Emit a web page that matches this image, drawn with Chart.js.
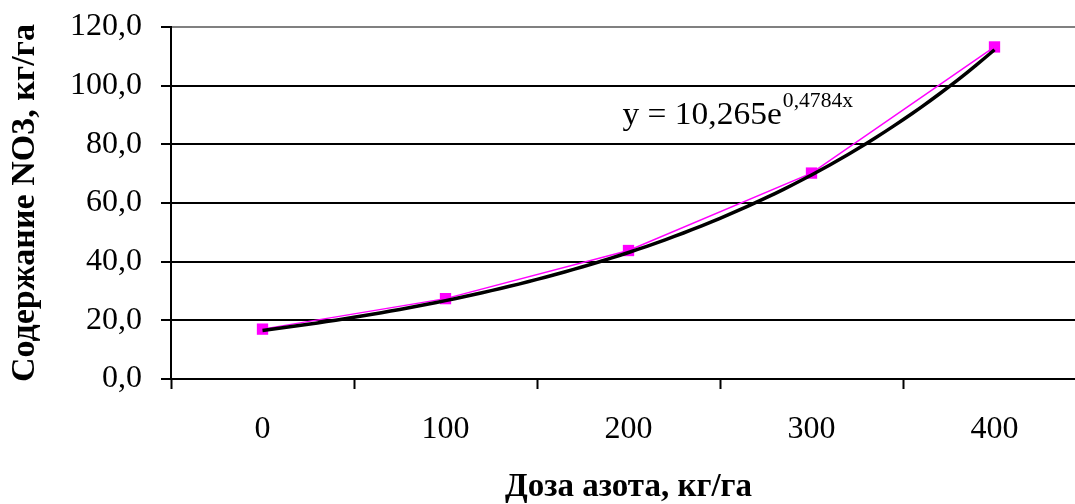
<!DOCTYPE html>
<html lang="ru">
<head>
<meta charset="utf-8">
<title>Содержание NO3</title>
<script src="https://cdn.jsdelivr.net/npm/chart.js@4"></script>
<style>
  html, body { margin: 0; padding: 0; background: #fff; overflow: hidden; }
  .chart-wrapper { position: relative; width: 1100px; height: 504px; }
</style>
</head>
<body>
<div class="chart-wrapper"><canvas id="no3Chart"></canvas></div>
<script>
// ===== Data =====
const doseLabels = ["0", "100", "200", "300", "400"];      // доза азота, кг/га
const no3Values = [17.0, 27.4, 43.8, 70.2, 113.2];          // содержание NO3, кг/га
const yTicks = [0, 20, 40, 60, 80, 100, 120];

// exponential trend y = a * e^(b*x), x = 1..5 (category number)
const TREND_A = 10.265;
const TREND_B = 0.4784;
const trendX = [];
for (let x = 1; x <= 5.0001; x += 0.05) trendX.push(+x.toFixed(2));
const trendPoints = trendX.map(x => ({ x: x, y: TREND_A * Math.exp(TREND_B * x) }));

const SERIF = "'Liberation Serif', 'Times New Roman', serif";
const fmt = v => v.toFixed(1).replace(".", ",");

// ===== Trend equation label =====
const equationLabel = {
  id: "equationLabel",
  afterDatasetsDraw(chart) {
    const ctx = chart.ctx;
    const xs = chart.scales.x;
    const ys = chart.scales.y;
    const left = xs.getPixelForValue(2) - 6;
    const base = ys.getPixelForValue(87);
    const main = "y = " + TREND_A.toFixed(3).replace(".", ",") + "e";
    const sup = TREND_B.toFixed(4).replace(".", ",") + "x";
    ctx.save();
    ctx.translate(left, base);
    ctx.scale(1.08, 1);
    ctx.fillStyle = "#000";
    ctx.textBaseline = "alphabetic";
    ctx.textAlign = "left";
    ctx.font = "31px " + SERIF;
    ctx.fillText(main, 0, 0);
    const w = ctx.measureText(main).width;
    ctx.font = "20px " + SERIF;
    ctx.fillText(sup, w + 1, -17);
    ctx.restore();
  }
};

// ===== Chart =====
function createChart() {
  const ctx = document.getElementById("no3Chart").getContext("2d");

  new Chart(ctx, {
    type: "line",
    data: {
      labels: doseLabels,
      datasets: [
        {
          label: "Тренд",
          data: trendPoints,
          xAxisID: "xt",
          borderColor: "#000",
          borderWidth: 3.5,
          pointRadius: 0,
          tension: 0,
          order: 0
        },
        {
          label: "Содержание NO3",
          data: no3Values,
          borderColor: "#ff00ff",
          backgroundColor: "#ff00ff",
          borderWidth: 1.5,
          pointStyle: "rect",
          pointRadius: 8,
          pointBorderWidth: 0,
          tension: 0,
          order: 1
        }
      ]
    },
    options: {
      responsive: true,
      maintainAspectRatio: false,
      animation: false,
      layout: { padding: { left: 0, top: 27, right: 14, bottom: 0 } },
      plugins: {
        legend: { display: false },
        tooltip: { enabled: false }
      },
      scales: {
        x: {
          type: "category",
          offset: true,
          afterFit: s => { s.height = 125; s.paddingLeft = 0; s.paddingRight = 0; },
          grid: {
            offset: true,
            drawOnChartArea: false,
            drawTicks: true,
            tickLength: 10,
            tickColor: "#000",
            tickWidth: 2
          },
          border: { display: true, color: "#000", width: 2 },
          ticks: {
            color: "#000",
            padding: 21,
            maxRotation: 0,
            font: { family: SERIF, size: 32 }
          },
          title: {
            display: true,
            text: "Доза азота, кг/га",
            color: "#000",
            font: { family: SERIF, size: 33, weight: "bold", lineHeight: 1 },
            padding: { top: 0, bottom: 0 }
          }
        },
        xt: {
          type: "linear",
          display: false,
          min: 0.5,
          max: 5.5
        },
        y: {
          min: 0,
          max: 120,
          afterFit: s => { s.width = 171; s.paddingTop = 0; s.paddingBottom = 0; },
          afterBuildTicks: s => { s.ticks = yTicks.map(v => ({ value: v })); },
          grid: {
            color: c => (c.tick && c.tick.value === 120 ? "#808080" : "#000"),
            lineWidth: 2,
            drawTicks: true,
            tickLength: 10,
            tickColor: "#000"
          },
          border: { display: true, color: "#000", width: 2 },
          ticks: {
            color: "#000",
            padding: 19,
            font: { family: SERIF, size: 32 },
            callback: v => fmt(v)
          },
          title: {
            display: true,
            text: "Содержание NO3, кг/га",
            color: "#000",
            font: { family: SERIF, size: 34, weight: "bold", lineHeight: 1 },
            padding: { top: 8, bottom: 0 }
          }
        }
      }
    },
    plugins: [equationLabel]
  });
}

document.addEventListener("DOMContentLoaded", createChart);
</script>
</body>
</html>
